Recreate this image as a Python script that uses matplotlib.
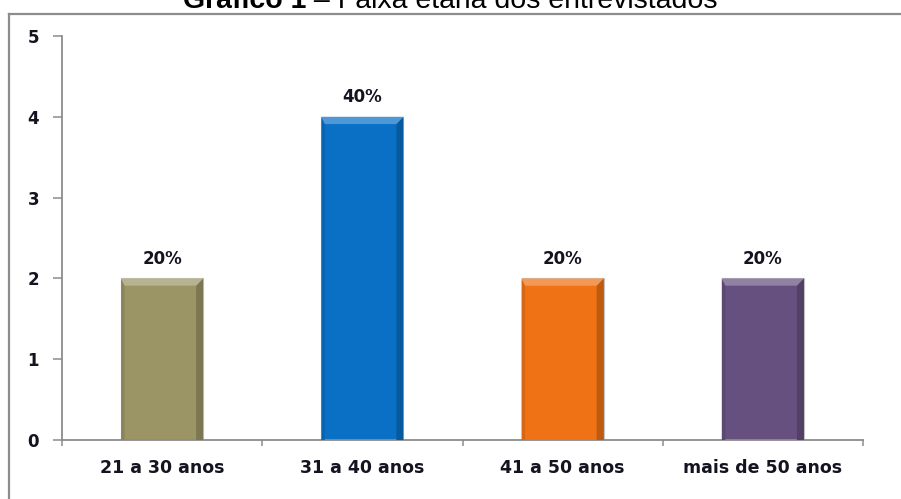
import matplotlib
matplotlib.use("Agg")
import matplotlib.pyplot as plt
from matplotlib.patches import Polygon
from matplotlib.lines import Line2D
from matplotlib.ticker import FixedLocator, NullFormatter, FixedFormatter
import matplotlib.colors as mcolors

# Data
categories = ["21 a 30 anos", "31 a 40 anos", "41 a 50 anos", "mais de 50 anos"]
counts = [2, 4, 2, 2]
percent_labels = ["20%", "40%", "20%", "20%"]
bar_colors = ["#9b9465", "#0a70c6", "#ef7215", "#66507f"]
y_ticks = [0, 1, 2, 3, 4, 5]

W, H = 901, 499
fig = plt.figure(figsize=(W / 100, H / 100), dpi=100)
fig.patch.set_facecolor("white")

# Outer chart frame (top and left edges visible)
frame_color = "#8c8c8c"
fx, fy = 9 / W, 1 - 13.5 / H
fig.add_artist(Line2D([fx, 1.0], [fy, fy], transform=fig.transFigure,
                      color=frame_color, lw=1.6))
fig.add_artist(Line2D([fx, fx], [fy, 0.0], transform=fig.transFigure,
                      color=frame_color, lw=1.6))

# Plot area
ax_left, ax_right = 62 / W, 863 / W
ax_bottom, ax_top = 1 - 440 / H, 1 - 36 / H
ax = fig.add_axes([ax_left, ax_bottom, ax_right - ax_left, ax_top - ax_bottom])
ax.set_facecolor("white")

n = len(categories)
ax.set_xlim(-0.5, n - 0.5)
ax.set_ylim(0, 5)

axis_color = "#8c8c8c"
for side in ("top", "right"):
    ax.spines[side].set_visible(False)
for side in ("left", "bottom"):
    ax.spines[side].set_color(axis_color)
    ax.spines[side].set_linewidth(1.3)

label_family = ["DejaVu Sans"]
label_size = 12.5
text_color = "#141420"

# Y axis ticks
ax.yaxis.set_major_locator(FixedLocator(y_ticks))
ax.set_yticklabels([str(v) for v in y_ticks],
                   fontdict=dict(family=label_family, weight="bold", size=12),
                   color=text_color)
ax.tick_params(axis="y", which="major", direction="out", length=6.5, width=1.1,
               color=axis_color, pad=10)

# X axis: boundary ticks (major) and category labels (minor)
ax.xaxis.set_major_locator(FixedLocator([i - 0.5 for i in range(n + 1)]))
ax.xaxis.set_major_formatter(NullFormatter())
ax.xaxis.set_minor_locator(FixedLocator(list(range(n))))
ax.xaxis.set_minor_formatter(FixedFormatter(categories))
ax.tick_params(axis="x", which="major", direction="out", length=4.5, width=1.1,
               color=axis_color)
ax.tick_params(axis="x", which="minor", length=0, pad=14)
for lbl in ax.get_xticklabels(minor=True):
    lbl.set_fontfamily(label_family)
    lbl.set_fontweight("bold")
    lbl.set_fontsize(label_size)
    lbl.set_color(text_color)

# Bars with a bevelled look
bar_width = 0.41
bevel_x = 0.035
bevel_y = 0.09


def shade(color, factor):
    r, g, b = mcolors.to_rgb(color)
    if factor >= 1:
        f = factor - 1
        return (r + (1 - r) * f, g + (1 - g) * f, b + (1 - b) * f)
    return (r * factor, g * factor, b * factor)


bars = ax.bar(range(n), counts, width=bar_width, color=bar_colors,
              edgecolor="#c4c4c4", linewidth=0.8, zorder=2)

for bar, col in zip(bars, bar_colors):
    x0 = bar.get_x()
    x1 = x0 + bar.get_width()
    top = bar.get_height()
    # left side
    ax.add_patch(Polygon([(x0, 0), (x0, top), (x0 + bevel_x * 0.5, top - bevel_y),
                          (x0 + bevel_x * 0.5, 0)], closed=True,
                         facecolor=shade(col, 0.9), edgecolor="none", zorder=3))
    # right side
    ax.add_patch(Polygon([(x1, 0), (x1, top), (x1 - bevel_x, top - bevel_y),
                          (x1 - bevel_x, 0)], closed=True,
                         facecolor=shade(col, 0.8), edgecolor="none", zorder=3))
    # top face
    ax.add_patch(Polygon([(x0, top), (x1, top), (x1 - bevel_x, top - bevel_y),
                          (x0 + bevel_x * 0.5, top - bevel_y)], closed=True,
                         facecolor=shade(col, 1.28), edgecolor="none", zorder=3))

# Value labels above the bars
for bar, txt in zip(bars, percent_labels):
    ax.annotate(txt, (bar.get_x() + bar.get_width() / 2, bar.get_height()),
                xytext=(0, 14), textcoords="offset points", ha="center", va="center",
                fontfamily=label_family, fontweight="bold", fontsize=12,
                color=text_color, zorder=4)

# Title: bold prefix followed by regular text, centred as a whole
title_y = 1 - 8 / H
t1 = fig.text(0.5, title_y, "Gráfico 1", ha="left", va="baseline",
              fontfamily="Liberation Sans", fontweight="bold", fontsize=20.5, color="black")
t2 = fig.text(0.5, title_y, " – Faixa etária dos entrevistados", ha="left",
              va="baseline", fontfamily="Liberation Sans", fontsize=20.5, color="black")
fig.canvas.draw()
r = fig.canvas.get_renderer()
w1 = t1.get_window_extent(r).width / W
w2 = t2.get_window_extent(r).width / W
start = 0.5 - (w1 + w2) / 2
t1.set_x(start)
t2.set_x(start + w1)

fig.savefig("out.png", dpi=100, facecolor="white")
